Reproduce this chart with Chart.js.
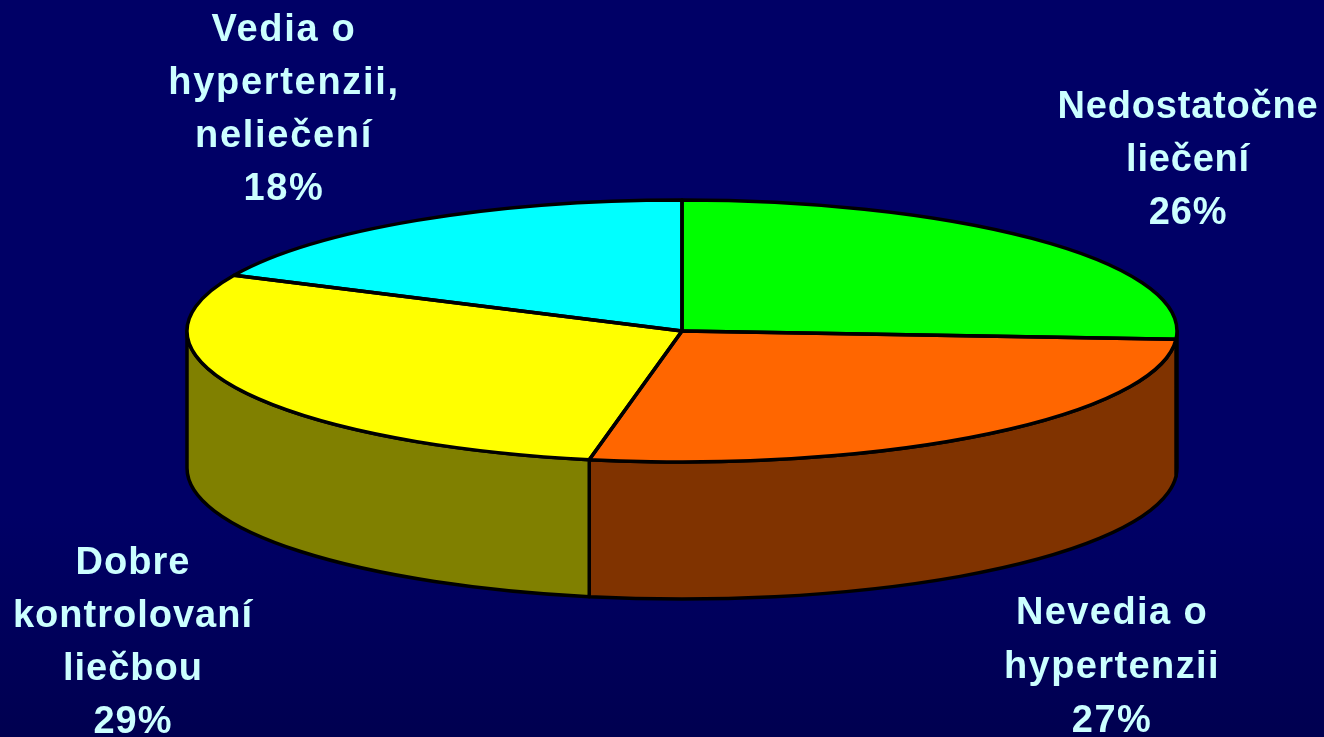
<!DOCTYPE html>
<html>
<head>
<meta charset="utf-8">
<title>Hypertenzia</title>
<script src="https://cdn.jsdelivr.net/npm/chart.js@4/dist/chart.umd.min.js"></script>
<style>
    html, body { margin: 0; padding: 0; width: 1324px; height: 737px; overflow: hidden; }
    body { background: linear-gradient(#000066, #000066 70%, #000050); }
    canvas { display: block; }
</style>
</head>
<body>
<canvas id="pieChart" width="1324" height="737"></canvas>
<script>
const categories = ["Nedostatočne liečení", "Nevedia o hypertenzii", "Dobre kontrolovaní liečbou", "Vedia o hypertenzii, neliečení"];
const shares = [26, 27, 29, 18];
const topColors = ["#00ff00", "#ff6600", "#ffff00", "#00ffff"];
const wallColors = ["#008000", "#803300", "#808000", "#008080"];
const labelLines = [
    ["Nedostatočne", "liečení"],
    ["Nevedia o", "hypertenzii"],
    ["Dobre", "kontrolovaní", "liečbou"],
    ["Vedia o", "hypertenzii,", "neliečení"]
];

// where each label block sits: center x, first baseline, line step, letter spacing
const labelSpots = [
    { x: 1188, y: 118, step: 53, gap: 0.8 },
    { x: 1112, y: 624, step: 54, gap: 1.4 },
    { x: 133, y: 574, step: 53, gap: 1 },
    { x: 284, y: 41, step: 53, gap: 1.7 }
];

const RX = 495, RY = 131, DEPTH = 137;

// squashes the round pie to an ellipse and adds the side wall
const tiltPlugin = {
    id: "tilt",
    beforeDatasetsDraw(chart) {
        const ctx = chart.ctx;
        const arcs = chart.getDatasetMeta(0).data;
        const cx = arcs[0].x, cy = arcs[0].y, r = arcs[0].outerRadius;

        ctx.save();
        ctx.lineWidth = 3.5;
        ctx.lineJoin = "round";
        ctx.strokeStyle = "#000";
        arcs.forEach((arc, i) => {
            const a0 = Math.max(arc.startAngle, 0);
            const a1 = Math.min(arc.endAngle, Math.PI);
            if (a1 <= a0) return;
            ctx.beginPath();
            ctx.ellipse(cx, cy, RX, RY, 0, a0, a1);
            ctx.ellipse(cx, cy + DEPTH, RX, RY, 0, a1, a0, true);
            ctx.closePath();
            ctx.fillStyle = wallColors[i];
            ctx.fill();
            ctx.stroke();
        });
        ctx.restore();

        ctx.save();
        ctx.translate(cx, cy);
        ctx.scale(RX / r, RY / r);
        ctx.translate(-cx, -cy);
    },
    afterDatasetsDraw(chart) {
        const ctx = chart.ctx;
        ctx.restore();

        const arcs = chart.getDatasetMeta(0).data;
        ctx.save();
        ctx.lineWidth = 3.5;
        ctx.lineJoin = "round";
        ctx.strokeStyle = "#000";
        arcs.forEach(arc => {
            ctx.beginPath();
            ctx.moveTo(arc.x, arc.y);
            ctx.ellipse(arc.x, arc.y, RX, RY, 0, arc.startAngle, arc.endAngle);
            ctx.closePath();
            ctx.stroke();
        });
        ctx.restore();
    }
};

const labelPlugin = {
    id: "sliceLabels",
    afterDraw(chart) {
        const ctx = chart.ctx;
        ctx.save();
        ctx.font = "bold 38px 'Liberation Sans', Arial, sans-serif";
        ctx.fillStyle = "#ccffff";
        ctx.textAlign = "center";
        labelLines.forEach((lines, i) => {
            const spot = labelSpots[i];
            ctx.letterSpacing = spot.gap + "px";
            lines.concat(shares[i] + "%").forEach((line, n) => {
                ctx.fillText(line, spot.x, spot.y + n * spot.step);
            });
        });
        ctx.restore();
    }
};

new Chart(document.getElementById("pieChart"), {
    type: "pie",
    data: {
        labels: categories,
        datasets: [{
            data: shares,
            backgroundColor: topColors,
            borderWidth: 0,
            clip: false
        }]
    },
    options: {
        responsive: false,
        animation: false,
        layout: { padding: { left: 40, bottom: 75 } },
        plugins: {
            legend: { display: false },
            tooltip: { enabled: false }
        }
    },
    plugins: [tiltPlugin, labelPlugin]
});
</script>
</body>
</html>
